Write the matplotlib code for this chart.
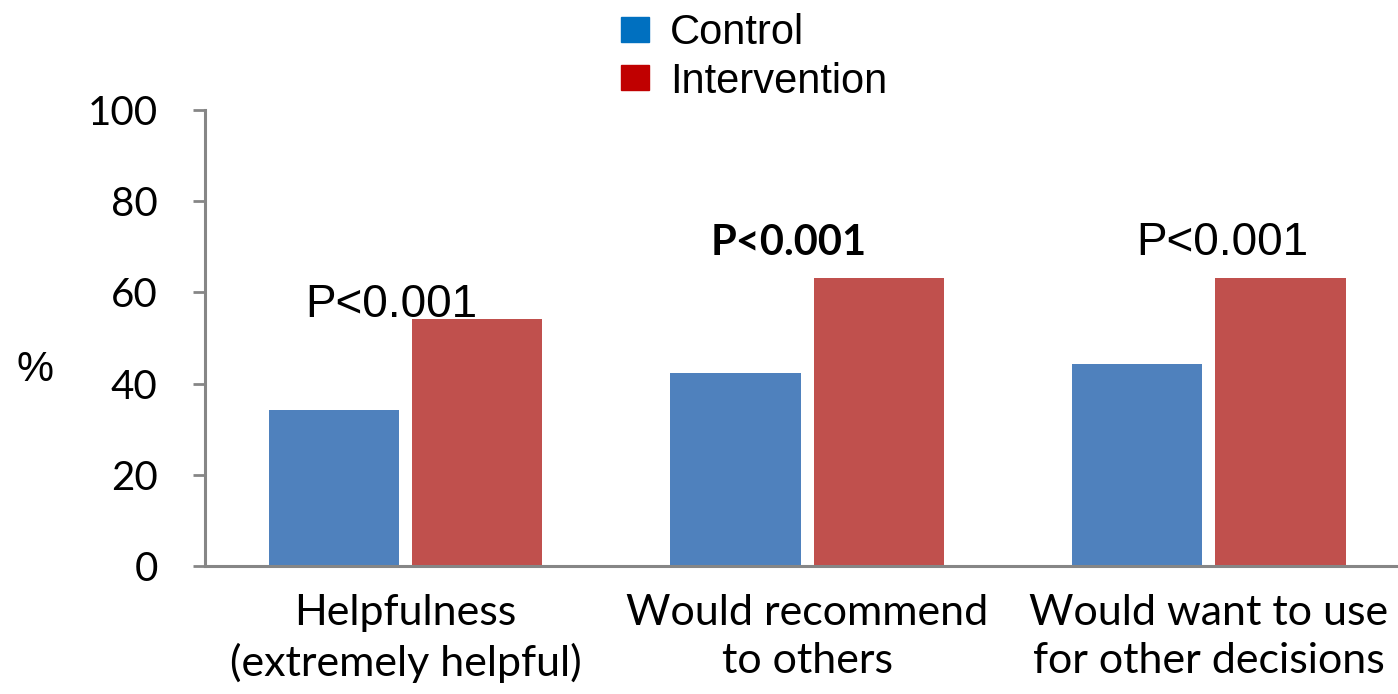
import matplotlib.pyplot as plt
import numpy as np
from matplotlib.patches import Patch

categories = ['Helpfulness\n(extremely helpful)', 'Would recommend\nto others',
              'Would want to use\nfor other decisions']
control = [34.2, 42.3, 44.3]
intervention = [54.2, 63.2, 63.2]
p_labels = ['P<0.001', 'P<0.001', 'P<0.001']
yticks = [0, 20, 40, 60, 80, 100]

fig = plt.figure(figsize=(13.98, 6.94), dpi=100)
ax = fig.add_axes([0.1466, 0.1844, 0.8616, 0.6571])

x = np.arange(len(categories))
w = 0.324
off = 0.1787
ax.bar(x - off, control, w, color='#4F81BD')
ax.bar(x + off, intervention, w, color='#C0504D')

ax.set_xlim(-0.5, 2.5)
ax.set_ylim(0, 100)
ax.set_yticks(yticks)
ax.set_yticklabels([str(t) for t in yticks], fontfamily='Lato', fontsize=29)
ax.set_xticks(x)
ax.set_xticklabels(categories, fontfamily='Lato', fontsize=31, linespacing=1.32)
ax.tick_params(axis='y', direction='out', length=9, width=2, color='#868686', pad=25)
ax.tick_params(axis='x', length=0, pad=20)

for s in ['top', 'right']:
    ax.spines[s].set_visible(False)
for s in ['left', 'bottom']:
    ax.spines[s].set_color('#868686')
    ax.spines[s].set_linewidth(2.2)

# p-value annotations
ax.text(-0.035, 57.2, p_labels[0], ha='center', va='center',
        fontfamily='Liberation Sans', fontsize=33)
ax.text(0.953, 70.8, p_labels[1], ha='center', va='center',
        fontfamily='Lato', fontweight='bold', fontsize=30)
ax.text(2.033, 70.8, p_labels[2], ha='center', va='center',
        fontfamily='Liberation Sans', fontsize=33)

fig.text(0.025, 0.467, '%', ha='center', va='center',
         fontfamily='Liberation Sans', fontsize=30)

handles = [Patch(color='#0070C0'), Patch(color='#C00000')]
fig.legend(handles, ['Control', 'Intervention'], loc='upper left',
           bbox_to_anchor=(0.4235, 1.023), frameon=False,
           prop={'family': 'Liberation Sans', 'size': 30},
           handlelength=0.67, handleheight=0.53, handletextpad=0.5,
           labelspacing=0.2, borderpad=0.2)

fig.savefig('out.png', dpi=100)
